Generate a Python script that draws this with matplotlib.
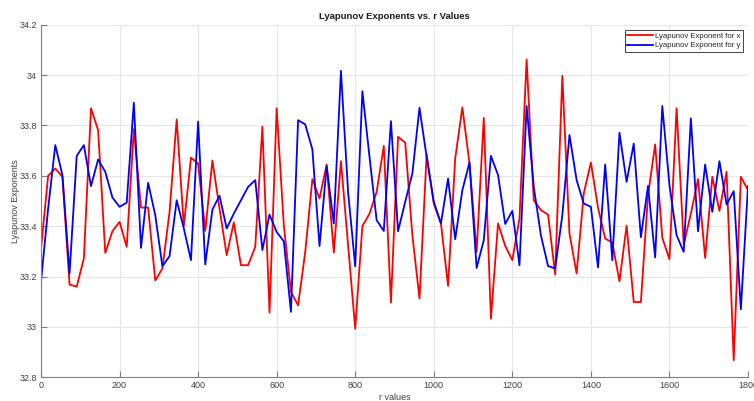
import numpy as np
import matplotlib
matplotlib.use("Agg")
import matplotlib.pyplot as plt

plt.rcParams["font.family"] = ["Liberation Sans", "DejaVu Sans"]

# r sweep: 100 evenly spaced values from 0 to 1800
r_start, r_stop, n_points = 0, 1800, 100
r_values = np.linspace(r_start, r_stop, n_points)

lyap_x = [
    33.311, 33.600, 33.629, 33.596, 33.168, 33.160, 33.272, 33.868, 33.781, 33.294,
    33.380, 33.417, 33.318, 33.785, 33.474, 33.474, 33.185, 33.232, 33.457, 33.824,
    33.401, 33.672, 33.649, 33.381, 33.661, 33.470, 33.285, 33.415, 33.245, 33.245,
    33.318, 33.795, 33.057, 33.868, 33.404, 33.139, 33.086, 33.298, 33.587, 33.510,
    33.645, 33.295, 33.658, 33.325, 32.993, 33.400, 33.450, 33.536, 33.719, 33.097,
    33.755, 33.732, 33.364, 33.113, 33.685, 33.490, 33.411, 33.163, 33.669, 33.872,
    33.649, 33.298, 33.830, 33.033, 33.411, 33.322, 33.265, 33.430, 34.062, 33.503,
    33.464, 33.446, 33.208, 33.997, 33.371, 33.212, 33.530, 33.653, 33.473, 33.351,
    33.335, 33.181, 33.402, 33.099, 33.099, 33.523, 33.725, 33.354, 33.269, 33.868,
    33.327, 33.450, 33.587, 33.274, 33.596, 33.461, 33.616, 32.868, 33.596, 33.543,
]

lyap_y = [
    33.181, 33.470, 33.722, 33.603, 33.212, 33.679, 33.722, 33.559, 33.665, 33.616,
    33.514, 33.477, 33.493, 33.890, 33.314, 33.572, 33.444, 33.241, 33.281, 33.503,
    33.391, 33.265, 33.815, 33.248, 33.466, 33.521, 33.391, 33.450, 33.503, 33.556,
    33.583, 33.305, 33.446, 33.377, 33.340, 33.060, 33.821, 33.804, 33.705, 33.321,
    33.638, 33.411, 34.017, 33.536, 33.241, 33.936, 33.675, 33.424, 33.381, 33.817,
    33.380, 33.497, 33.609, 33.870, 33.675, 33.497, 33.411, 33.589, 33.348, 33.543,
    33.653, 33.234, 33.344, 33.679, 33.603, 33.409, 33.461, 33.245, 33.877, 33.556,
    33.364, 33.242, 33.232, 33.444, 33.762, 33.583, 33.490, 33.477, 33.236, 33.645,
    33.265, 33.771, 33.576, 33.728, 33.356, 33.560, 33.276, 33.877, 33.563, 33.364,
    33.298, 33.828, 33.380, 33.645, 33.457, 33.658, 33.486, 33.539, 33.070, 33.559,
]

x_ticks = [0, 200, 400, 600, 800, 1000, 1200, 1400, 1600, 1800]
y_ticks = [32.8, 33.0, 33.2, 33.4, 33.6, 33.8, 34.0, 34.2]
y_tick_labels = ["32.8", "33", "33.2", "33.4", "33.6", "33.8", "34", "34.2"]

axis_gray = "#262626"
tick_gray = "#404040"

fig = plt.figure(figsize=(7.54, 4.01), dpi=100)
ax = fig.add_axes([41 / 754, 1 - 377.3 / 401, 707 / 754, 352.6 / 401])

ax.plot(r_values, lyap_x, color="#ff0000", lw=1.3, label="Lyapunov Exponent for x")
ax.plot(r_values, lyap_y, color="#0000ff", lw=1.3, label="Lyapunov Exponent for y")

ax.set_xlim(0, 1800)
ax.set_ylim(32.8, 34.2)
ax.set_xticks(x_ticks)
ax.set_yticks(y_ticks)
ax.set_yticklabels(y_tick_labels)

ax.grid(True, color="#e6e6e6", lw=0.8)
ax.set_axisbelow(True)
for side in ("top", "right"):
    ax.spines[side].set_visible(False)
for side in ("left", "bottom"):
    ax.spines[side].set_color("#7f7f7f")
    ax.spines[side].set_linewidth(0.8)

ax.tick_params(direction="in", length=4, width=0.8, color="#7f7f7f",
               labelsize=6.5, labelcolor=tick_gray, pad=3)

ax.set_title("Lyapunov Exponents vs. r Values", fontsize=6.8, fontweight="bold",
             color="#1a1a1a", pad=4)
ax.set_xlabel("r values", fontsize=6.5, color=tick_gray)
ax.xaxis.set_label_coords(0.5, -0.045)
ax.set_ylabel("Lyapunov Exponents", fontsize=6.5, color=tick_gray)
ax.yaxis.set_label_coords(-0.03, 0.5)

leg = ax.legend(loc="upper right", fontsize=5.6, frameon=True, fancybox=False,
                edgecolor="#262626", framealpha=1, handlelength=3.3,
                borderpad=0.3, labelspacing=0.25, handletextpad=0.3,
                borderaxespad=0.7)
leg.get_frame().set_linewidth(0.6)
for t in leg.get_texts():
    t.set_color(axis_gray)

fig.savefig("out.png", dpi=100)
